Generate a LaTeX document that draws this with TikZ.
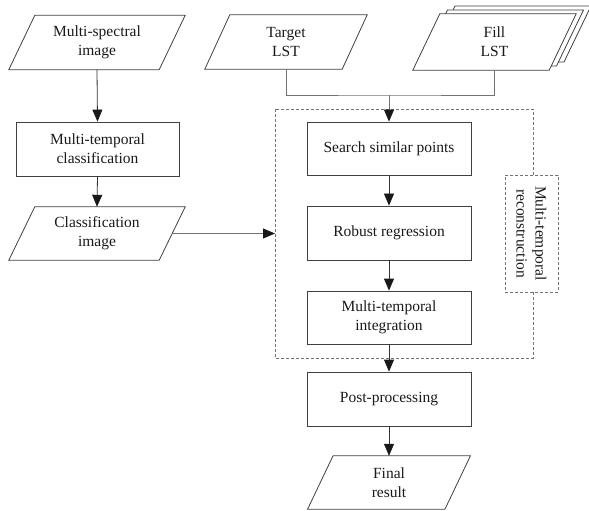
\documentclass[tikz,border=0pt]{standalone}
\usepackage{fontspec}
\setmainfont{Liberation Serif}
\usetikzlibrary{arrows.meta,calc}
\begin{document}
\begin{tikzpicture}[x=1bp,y=-1bp,
  every node/.style={font=\fontsize{15.5bp}{19bp}\selectfont, align=center, inner sep=0pt, text=black!90},
  boxline/.style={draw=black!75, line width=0.8bp},
  stepbox/.style={boxline, minimum width=164bp, minimum height=54bp},
  parabody/.style={minimum height=54bp},
  conn/.style={draw=black!55, line width=0.8bp},
  arr/.style={conn, -{Triangle[width=10bp,length=12bp,fill=black!90,color=black!90]}},
  dashbox/.style={draw=black!55, line width=0.7bp, dash pattern=on 3bp off 2bp}]
\useasboundingbox (0,0) rectangle (589,511);
% dashed group box
\draw[dashbox] (275,109) rectangle (533,358);
\node[dashbox, fill=white, minimum width=53bp, minimum height=117bp] (lab) at (531.5,233.5) {};
\node[rotate=-90] at (lab.center) {Multi-temporal\\reconstruction};

% parallelogram inputs
\node[parabody, minimum width=150bp] (ms) at (97,42.5) {Multi-spectral\\image};
\draw[boxline] ([xshift=13bp]ms.north west) -- ([xshift=13bp]ms.north east) -- ([xshift=-13bp]ms.south east) -- ([xshift=-13bp]ms.south west) -- cycle;

\node[stepbox, minimum width=163bp] (mtc) at (97.5,149) {Multi-temporal\\classification};

\node[parabody, minimum width=150bp, minimum height=53bp] (ci) at (97,233.5) {Classification\\image};
\draw[boxline] ([xshift=13bp]ci.north west) -- ([xshift=13bp]ci.north east) -- ([xshift=-13bp]ci.south east) -- ([xshift=-13bp]ci.south west) -- cycle;

\node[parabody, minimum width=137bp] (tl) at (286,42) {Target\\LST};
\draw[boxline] ([xshift=12.5bp]tl.north west) -- ([xshift=12.5bp]tl.north east) -- ([xshift=-12.5bp]tl.south east) -- ([xshift=-12.5bp]tl.south west) -- cycle;

% Fill LST stack
\coordinate (fc) at (494.5,42);
\foreach \dx/\dy in {15/-8, 7.5/-4}{
  \fill[white] ($(fc)+(\dx,\dy)+(-68+13.5,-28)$) -- ($(fc)+(\dx,\dy)+(68+13.5,-28)$) -- ($(fc)+(\dx,\dy)+(68-13.5,28)$) -- ($(fc)+(\dx,\dy)+(-68-13.5,28)$) -- cycle;
  \draw[boxline] ($(fc)+(\dx,\dy)+(-68+13.5,-28)$) -- ($(fc)+(\dx,\dy)+(68+13.5,-28)$) -- ($(fc)+(\dx,\dy)+(68-13.5,28)$) -- ($(fc)+(\dx,\dy)+(-68-13.5,28)$) -- cycle;
}
\node[parabody, minimum width=136bp, minimum height=56bp] (fl) at (fc) {};
\fill[white] ([xshift=13.5bp]fl.north west) -- ([xshift=13.5bp]fl.north east) -- ([xshift=-13.5bp]fl.south east) -- ([xshift=-13.5bp]fl.south west) -- cycle;
\draw[boxline] ([xshift=13.5bp]fl.north west) -- ([xshift=13.5bp]fl.north east) -- ([xshift=-13.5bp]fl.south east) -- ([xshift=-13.5bp]fl.south west) -- cycle;
\node at (fl.center) {Fill\\LST};

% main column
\node[stepbox, minimum height=53bp] (ssp) at (389,148.5) {Search similar points};
\node[stepbox] (rr) at (389,233) {Robust regression};
\node[stepbox, minimum height=53bp] (mti) at (389,317.5) {Multi-temporal\\integration};
\node[stepbox] (pp) at (389,399) {Post-processing};
\node[parabody, minimum width=137bp, minimum height=53bp] (fr) at (389,482.5) {Final\\result};
\draw[boxline] ([xshift=12.75bp]fr.north west) -- ([xshift=12.75bp]fr.north east) -- ([xshift=-12.75bp]fr.south east) -- ([xshift=-12.75bp]fr.south west) -- cycle;

% connectors
\coordinate (j) at (389,95);
\coordinate (gin) at (275,233.5);
\draw[conn] (tl.south) |- (j) -| (fl.south);
\draw[arr] (j) -- (ssp.north);
\draw[arr, draw=black!80] (ms.south) -- (mtc.north);
\draw[arr, draw=black!80] (mtc.south) -- (ci.north);
\draw[arr] (ci.east) -- (gin);
\draw[arr, draw=black!80] (ssp.south) -- (rr.north);
\draw[arr, draw=black!80] (rr.south) -- (mti.north);
\draw[arr, draw=black!80] (mti.south) -- (pp.north);
\draw[arr, draw=black!80] (pp.south) -- (fr.north);
\end{tikzpicture}
\end{document}
